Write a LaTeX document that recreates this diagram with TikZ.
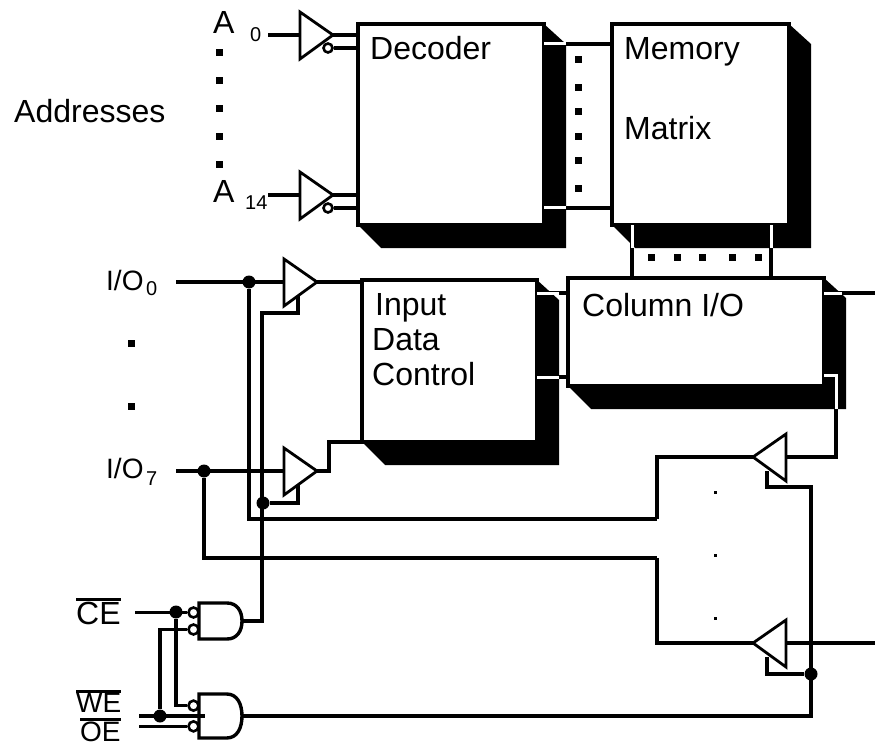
\documentclass[tikz,border=0pt]{standalone}
\usepackage{fontspec}
\setmainfont{Liberation Sans}
\usetikzlibrary{
  backgrounds,
  calc
}
\newcommand\barred[1]{\vbox{\hrule height 3pt\kern 1pt\hbox{#1}}}
\newcommand\boxshade[1]{%
  \fill (#1.south west) -- ++(23,23) -| ($(#1.north east)+(22,20)$) -- (#1.north east) -- cycle;
}
\tikzset{
  wire/.style={draw,line width=3.4pt},
  busline/.style={draw,line width=4.6pt},
  gapline/.style={draw=white,line width=3pt},
  blockbox/.style={draw,fill=white,line width=4pt,anchor=north west,inner sep=0pt,outer sep=0pt},
  caption/.style={anchor=base west,inner sep=0pt,font=\fontsize{32}{32}\selectfont},
  smallcaption/.style={anchor=base west,inner sep=0pt,font=\fontsize{28}{28}\selectfont},
  subcaption/.style={anchor=base west,inner sep=0pt,font=\fontsize{20}{20}\selectfont},
  dotmark/.style={fill,inner sep=0pt,minimum size=7pt},
  tinydot/.style={fill,inner sep=0pt,minimum size=3pt},
  junction/.style={circle,fill,inner sep=0pt,minimum size=13pt},
  bubble/.style={circle,draw,fill=white,line width=2.6pt,inner sep=0pt,minimum size=9pt},
  enable x/.store in=\enablex,
  enable x=14,
  buffer/.pic={
    \draw[wire,line width=2.8pt,fill=white] (0,-23) -- (33,0) -- (0,24) -- cycle;
    \coordinate (-in) at (0,0);
    \coordinate (-out) at (33,0);
    \coordinate (-en) at (\enablex,14);
  },
  gate/.pic={
    \draw[wire,fill=white] (0,-18) -- (28,-18) .. controls (38,-18) and (43,-10) .. (43,0)
      .. controls (43,10) and (38,18) .. (28,18) -- (0,18) -- cycle;
    \node[bubble,minimum size=10pt] (-a) at (-5.5,-8.5) {};
    \node[bubble,minimum size=10pt] (-b) at (-5.5,8.5) {};
    \coordinate (-out) at (43,0);
  },
}
\begin{document}
\begin{tikzpicture}[x=1pt,y=-1pt]
\useasboundingbox (0,0) rectangle (875,746);
% blocks
\node[blockbox,minimum width=186pt,minimum height=201pt] (decoder) at (358,24) {};
\node[blockbox,minimum width=177pt,minimum height=201pt] (memory) at (612,24) {};
\node[blockbox,minimum width=175pt,minimum height=162pt] (inputctl) at (362,280) {};
\node[blockbox,minimum width=256pt,minimum height=108pt] (column) at (568,278) {};
\begin{scope}[on background layer]
\foreach \nm in {decoder,memory,inputctl,column} {
  \boxshade{\nm}
}
\end{scope}
% rows and rails
\coordinate (rowa) at (0,44);
\coordinate (rowb) at (0,208);
\coordinate (rowc) at (0,293);
\coordinate (rowd) at (0,377);
\coordinate (rowe) at (0,457);
\coordinate (cola) at (632,0);
\coordinate (colb) at (771,0);
\coordinate (dataout) at (875,293);
\coordinate (lineout) at (875,643);
\coordinate (apin) at (268,35);
\coordinate (bpin) at (268,195);
\coordinate (iozero) at (176,282);
\coordinate (ioseven) at (176,471);
\coordinate (cepin) at (135,612);
\coordinate (wepin) at (139,716);
\coordinate (oepin) at (139,727);
\coordinate (busa) at (657,519);
\coordinate (busb) at (657,558);
\coordinate (enrail) at (262,313);
\coordinate (backrail) at (811,487);
\coordinate (sensea) at (836,375);
\coordinate (outelbow) at (329,442);
\coordinate (wetip) at (205,716);
% wires through the shadows
\draw[wire] (decoder.east |- rowa) -- (memory.west |- rowa);
\draw[wire] (decoder.east |- rowb) -- (memory.west |- rowb);
\draw[wire] (memory.south -| cola) -- (column.north -| cola);
\draw[wire] (memory.south -| colb) -- (column.north -| colb);
\draw[wire] (inputctl.east |- rowc) -- (column.west |- rowc);
\draw[wire] (inputctl.east |- rowd) -- (column.west |- rowd);
\draw[wire] (column.east |- rowc) -- (dataout);
\draw[wire] (column.east |- sensea) -- (sensea) -- (sensea |- rowe) -- (786,457);
\draw[gapline] (decoder.east |- rowa) -- ++(22,0);
\draw[gapline] (decoder.east |- rowb) -- ++(22,0);
\draw[gapline] (memory.south -| cola) -- ++(0,23);
\draw[gapline] (memory.south -| colb) -- ++(0,23);
\draw[gapline] (inputctl.east |- rowc) -- ++(22,0);
\draw[gapline] (inputctl.east |- rowd) -- ++(22,0);
\draw[gapline] (column.east |- rowc) -- ++(18,0);
\draw[gapline] (column.east |- sensea) -- (sensea) -- ++(0,34);
% buffers and gates
\pic (bufa) at (300,35) {buffer};
\pic (bufb) at (300,195) {buffer};
\pic (bufc) at (284,282) {buffer};
\pic (bufd) at (284,471) {buffer};
\pic[xscale=-1,enable x=19] (bufu) at (786,457) {buffer};
\pic[xscale=-1,enable x=19] (bufl) at (786,643) {buffer};
\pic (gatea) at (199,621) {gate};
\pic[yscale=1.22] (gateb) at (199,716) {gate};
\node[bubble] (bubblea) at (328,48) {};
\node[bubble] (bubbleb) at (328,208) {};
% junctions
\node[junction] (juncio) at (249,282) {};
\node[junction] (juncsev) at (204,471) {};
\node[junction] (juncen) at (263,503) {};
\node[junction] (juncce) at (176,612) {};
\node[junction] (juncwe) at (160,716) {};
\node[junction] (juncback) at (811,674) {};
% wires
\draw[wire] (apin) -- (bufa-in);
\draw[wire] (bpin) -- (bufb-in);
\draw[wire] (bufa-out) -- (decoder.west |- bufa-out);
\draw[wire] (bufb-out) -- (decoder.west |- bufb-out);
\draw[wire] (bubblea) -- (decoder.west |- bubblea);
\draw[wire] (bubbleb) -- (decoder.west |- bubbleb);
\draw[wire] (iozero) -- (bufc-in);
\draw[wire] (ioseven) -- (bufd-in);
\draw[wire] (bufc-out) -- (inputctl.west |- bufc-out);
\draw[wire] (bufd-out) -| (outelbow) -- (inputctl.south west);
\draw[busline] (juncio) |- (busa);
\draw[wire] (busa) |- (bufu-out);
\draw[wire] (juncsev) |- (busb);
\draw[wire] (busb) |- (bufl-out);
\draw[wire] (bufl-in) -- (lineout);
\draw[wire] (gatea-out) -| (enrail) -- (enrail -| bufc-en) -- (bufc-en);
\draw[wire] (juncen) -| (bufd-en);
\draw[wire] (gateb-out) -| (backrail) -- (backrail -| bufu-en) -- (bufu-en);
\draw[wire] (juncback) -| (bufl-en);
\draw[wire] (cepin |- gatea-a) -- (gatea-a);
\draw[wire] (wepin) -- (wetip);
\draw[wire] (oepin |- gateb-b) -- (gateb-b);
\draw[wire] (juncce) |- (gateb-a);
\draw[wire] (juncwe) |- (gatea-b);
% dots
\foreach \y in {53,81,109,137,165} {
  \node[dotmark] (dota\y) at (219,\y) {};
}
\foreach \y in {60,88,112,137,161,189} {
  \node[dotmark] (dotb\y) at (578,\y) {};
}
\foreach \x in {651,677,702,732,758} {
  \node[dotmark] (dotc\x) at (\x,257) {};
}
\foreach \y in {343,406} {
  \node[dotmark] (dotd\y) at (131,\y) {};
}
\foreach \y in {492,555,618} {
  \node[tinydot] (dote\y) at (715,\y) {};
}
% text
\node[caption] (addresses) at (14,123) {Addresses};
\node[caption] (adda) at (213,34) {A};
\node[subcaption] (addasub) at (250,42) {0};
\node[caption] (addb) at (213,203) {A};
\node[subcaption] (addbsub) at (245,210) {14};
\node[caption] (decodertext) at (370,60) {Decoder};
\node[caption] (memorytext) at (624,60) {Memory};
\node[caption] (matrixtext) at (624,140) {Matrix};
\node[caption] (inputtext) at (375,315) {Input};
\node[caption] (datatext) at (372,350) {Data};
\node[caption] (controltext) at (372,385) {Control};
\node[caption] (columntext) at (582,316) {Column I/O};
\node[smallcaption] (iozerotext) at (106,290) {I/O};
\node[subcaption] (iozerosub) at (146,295) {0};
\node[smallcaption] (ioseventext) at (106,478) {I/O};
\node[subcaption] (iosevensub) at (146,485) {7};
\node[caption,anchor=south west] (cetext) at (76,625) {\barred{CE}};
\node[smallcaption,anchor=south west] (wetext) at (76,713) {\barred{WE}};
\node[smallcaption,anchor=north west] (oetext) at (80,718) {\barred{OE}};
\end{tikzpicture}
\end{document}
